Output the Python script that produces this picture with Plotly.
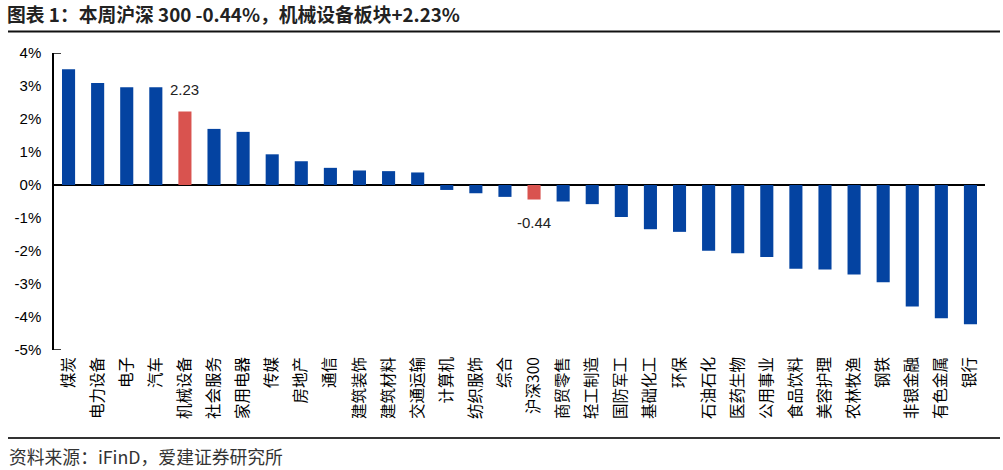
import plotly.graph_objects as go

categories = ["煤炭", "电力设备", "电子", "汽车", "机械设备", "社会服务", "家用电器", "传媒",
              "房地产", "通信", "建筑装饰", "建筑材料", "交通运输", "计算机", "纺织服饰", "综合",
              "沪深300", "商贸零售", "轻工制造", "国防军工", "基础化工", "环保", "石油石化", "医药生物",
              "公用事业", "食品饮料", "美容护理", "农林牧渔", "钢铁", "非银金融", "有色金属", "银行"]
values = [3.51, 3.09, 2.96, 2.96, 2.23, 1.70, 1.61, 0.93,
          0.72, 0.52, 0.44, 0.42, 0.38, -0.15, -0.25, -0.36,
          -0.44, -0.50, -0.58, -0.97, -1.34, -1.42, -1.99, -2.07,
          -2.18, -2.54, -2.56, -2.71, -2.95, -3.68, -4.04, -4.22]
highlight = ["机械设备", "沪深300"]
y_ticks = [-5, -4, -3, -2, -1, 0, 1, 2, 3, 4]

BLUE = "#0443A1"
RED = "#D9534F"
colors = [RED if c in highlight else BLUE for c in categories]

W, H = 1003, 470
ML, MR, MT, MB = 54, 18, 53, 120
PW = W - ML - MR
PH = H - MT - MB

def px_x(px):
    return (px - ML) / PW

def px_y(py):
    return (H - MB - py) / PH

fig = go.Figure(go.Bar(
    x=categories, y=values, marker=dict(color=colors, line=dict(width=0)),
    hoverinfo="x+y",
))

for c in highlight:
    v = values[categories.index(c)]
    fig.add_annotation(
        x=c, y=v, text=f"{v:.2f}", showarrow=False,
        yanchor="bottom" if v >= 0 else "top",
        yshift=11 if v >= 0 else -12,
        font=dict(family="Liberation Sans, Arial", size=15, color="#222"),
    )

ymin, ymax = min(y_ticks), max(y_ticks)
# axis end caps
for yv in (ymin, ymax):
    fig.add_shape(type="line", xref="paper", yref="y", x0=0, x1=7 / PW, y0=yv, y1=yv,
                  line=dict(color="black", width=1.5))

# title underline and bottom rule
fig.add_shape(type="line", xref="paper", yref="paper", x0=px_x(8), x1=px_x(1000),
              y0=px_y(31.5), y1=px_y(31.5), line=dict(color="#111", width=2))
fig.add_shape(type="line", xref="paper", yref="paper", x0=px_x(8), x1=px_x(1000),
              y0=px_y(438), y1=px_y(438), line=dict(color="#333", width=2))

fig.add_annotation(
    xref="paper", yref="paper", x=px_x(7), y=px_y(456), xanchor="left", yanchor="middle",
    text="资料来源：iFinD，爱建证券研究所", showarrow=False,
    font=dict(family="Noto Sans CJK SC", size=17.8, color="#333"),
)

fig.update_layout(
    width=W, height=H,
    margin=dict(l=ML, r=MR, t=MT, b=MB, pad=0),
    paper_bgcolor="white", plot_bgcolor="white",
    showlegend=False,
    bargap=0.55,
    title=dict(
        text="<b>图表 1：本周沪深 300 -0.44%，机械设备板块+2.23%</b>",
        xref="container", yref="container", x=7 / W, xanchor="left",
        y=1 - 15 / H, yanchor="middle",
        font=dict(family="Noto Sans CJK SC", size=18.8, color="#222"),
    ),
    xaxis=dict(
        type="category", showline=False, showgrid=False, zeroline=False, ticks="",
        tickangle=-90, ticklabelstandoff=3,
        tickfont=dict(family="Noto Sans CJK SC", size=15.5, color="black"),
        range=[-0.5, len(categories) - 0.5],
    ),
    yaxis=dict(
        range=[ymin, ymax], tickvals=y_ticks, ticktext=[f"{t}%" for t in y_ticks],
        showgrid=False, showline=True, linecolor="black", linewidth=1.5,
        zeroline=True, zerolinecolor="black", zerolinewidth=1.5,
        ticks="", ticklabelstandoff=8,
        tickfont=dict(family="Liberation Sans, Arial", size=15, color="black"),
    ),
)

fig.write_html(
    "out.html",
    config={"displayModeBar": False},
    post_script="document.body.style.margin='0';document.body.style.overflow='hidden';",
)
